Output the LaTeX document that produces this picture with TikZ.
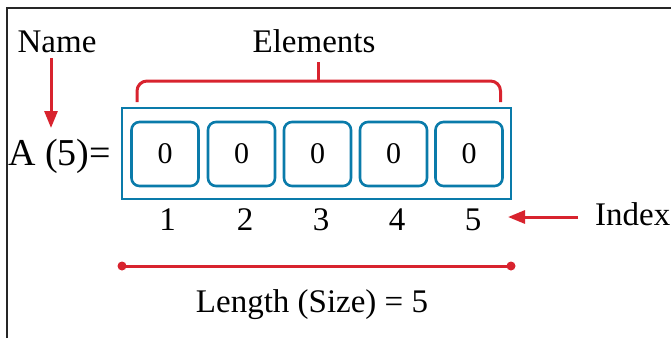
\documentclass[tikz,border=0pt]{standalone}
\usepackage{fontspec}
\setmainfont{Liberation Serif}
\usetikzlibrary{arrows.meta}
\definecolor{arrblue}{HTML}{0A7BAA}
\definecolor{arrred}{HTML}{D8232E}
\begin{document}
\begin{tikzpicture}[x=1pt,y=-1pt,
  lbl/.style={font=\fontsize{33}{38}\selectfont, inner sep=0pt, anchor=base},
  cell/.style={draw=arrblue, line width=2.6pt, rounded corners=8pt, minimum width=67pt, minimum height=64pt, inner sep=0pt, font=\fontsize{30}{34}\selectfont},
  redline/.style={draw=arrred, line width=3pt},
  redarrow/.style={redline, -{Triangle[length=17pt,width=13pt]}},
  dot/.style={circle, fill=arrred, inner sep=0pt, minimum size=9pt}
]
\useasboundingbox (0,0) rectangle (671,338);
% frame
\draw[line width=2.5pt, black!85] (7,338) -- (7,8) -- (671,8);
% labels
\node[lbl] (name) at (57,52) {Name};
\node[lbl] (elements) at (314,52) {Elements};
\node[lbl, anchor=base west, font=\fontsize{38}{42}\selectfont] (aname) at (8,165) {A (5)=};
\node[lbl, anchor=base west] (index) at (595,225) {Index};
\node[lbl] (length) at (312,312) {Length (Size) = 5};
% outer rect
\node[draw=arrblue, line width=2.6pt, minimum width=389pt, minimum height=91pt, inner sep=0pt] (outer) at (316.5,153.5) {};
% cells
\foreach \i/\x/\ix in {1/165/167.5, 2/241.5/245, 3/317.5/321, 4/393.5/397, 5/469/473} {
  \node[cell] (c\i) at (\x,154) {0};
  \node[lbl] (i\i) at (\ix,230) {\i};
}
% Name arrow
\coordinate (nameTail) at (51,58);
\coordinate (nameTip) at (51,128);
\draw[redarrow] (nameTail) -- (nameTip);
% brace
\coordinate (bl) at (137,102);
\coordinate (br) at (500.5,102);
\coordinate (bm) at (318,81);
\coordinate (bt) at (318,62);
\draw[redline, rounded corners=10pt] (bl) -- (137,81) -- (500.5,81) -- (br);
\draw[redline] (bm) -- (bt);
% index arrow
\coordinate (idxTail) at (578,217);
\coordinate (idxTip) at (508,217);
\draw[redarrow] (idxTail) -- (idxTip);
% length line
\node[dot] (ll) at (122,266) {};
\node[dot] (lr) at (511,266) {};
\draw[redline] (ll.center) -- (lr.center);
\end{tikzpicture}
\end{document}
